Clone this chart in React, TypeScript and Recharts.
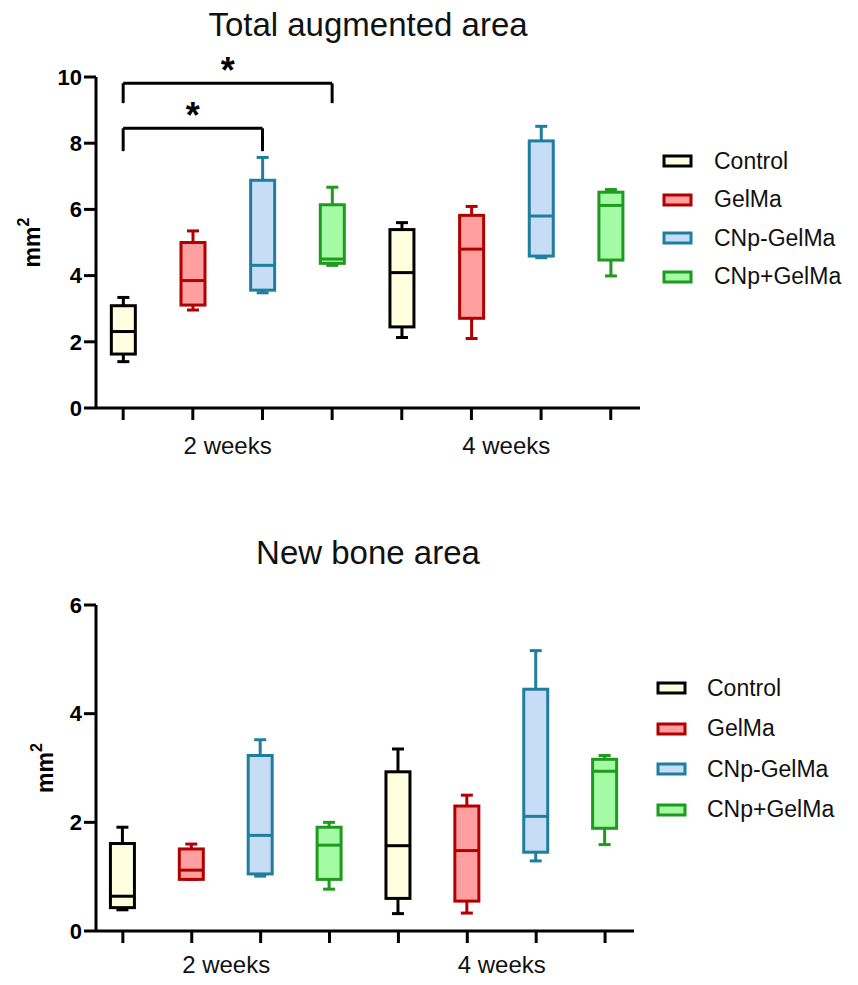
import React from "react";
import {
  Bar,
  ComposedChart,
  ReferenceDot,
  ReferenceLine,
  XAxis,
  YAxis,
} from "recharts";

const groups = ["Control", "GelMa", "CNp-GelMa", "CNp+GelMa"];
const timepoints = ["2 weeks", "4 weeks"];
const positions = [1, 2, 3, 4, 5, 6, 7, 8];
const timepointCenters = [2.5, 6.5];

// Total augmented area, boxes in order: 2 weeks (4 groups), 4 weeks (4 groups)
const totalMin = [1.4, 2.96, 3.48, 4.31, 2.13, 2.1, 4.54, 3.99];
const totalQ1 = [1.63, 3.11, 3.56, 4.37, 2.45, 2.71, 4.59, 4.47];
const totalMedian = [2.31, 3.85, 4.31, 4.5, 4.09, 4.8, 5.8, 6.12];
const totalQ3 = [3.09, 5.0, 6.88, 6.14, 5.39, 5.82, 8.07, 6.52];
const totalMax = [3.34, 5.35, 7.57, 6.67, 5.6, 6.09, 8.51, 6.6];
const totalTicks = [0, 2, 4, 6, 8, 10];

// New bone area
const boneMin = [0.39, 0.95, 1.01, 0.77, 0.32, 0.33, 1.29, 1.59];
const boneQ1 = [0.43, 0.95, 1.05, 0.95, 0.6, 0.55, 1.45, 1.89];
const boneMedian = [0.64, 1.12, 1.76, 1.58, 1.57, 1.48, 2.11, 2.94];
const boneQ3 = [1.61, 1.51, 3.23, 1.91, 2.93, 2.3, 4.45, 3.16];
const boneMax = [1.91, 1.6, 3.52, 2.0, 3.35, 2.5, 5.16, 3.23];
const boneTicks = [0, 2, 4, 6];

// significance brackets on the top chart: from/to box positions, bar level, leg end
const brackets = [
  { from: 1, to: 3, top: 8.45, leg: 7.76, mark: "*" },
  { from: 1, to: 4, top: 9.81, leg: 9.21, mark: "*" },
];

const strokes = ["#000000", "#b00000", "#1f7e9e", "#1e9a1e"];
const fills = ["#ffffe0", "#ff9f9f", "#c6ddf5", "#a3fca3"];

const FONT = '"Liberation Sans", Arial, sans-serif';
const X_DOMAIN: [number, number] = [0.61, 8.42];

function buildRows(
  min: number[],
  q1: number[],
  median: number[],
  q3: number[],
  max: number[]
) {
  return positions.map((pos, i) => ({
    pos,
    group: i % groups.length,
    range: [min[i], max[i]],
    min: min[i],
    q1: q1[i],
    median: median[i],
    q3: q3[i],
    max: max[i],
  }));
}

const totalRows = buildRows(totalMin, totalQ1, totalMedian, totalQ3, totalMax);
const boneRows = buildRows(boneMin, boneQ1, boneMedian, boneQ3, boneMax);

function BoxShape(props: any) {
  const { x, y, width, height, payload } = props;
  if (!payload) return null;
  const top = Math.min(y, y + height);
  const h = Math.abs(height);
  const { min, q1, median, q3, max, group } = payload;
  const px = (v: number) => top + ((max - v) / (max - min)) * h;
  const cx = x + width / 2;
  const cap = width / 2;
  const stroke = strokes[group];
  return (
    <g>
      <line x1={cx} x2={cx} y1={px(max)} y2={px(q3)} stroke={stroke} strokeWidth={3} />
      <line x1={cx} x2={cx} y1={px(q1)} y2={px(min)} stroke={stroke} strokeWidth={3} />
      <line x1={cx - cap / 2} x2={cx + cap / 2} y1={px(max)} y2={px(max)} stroke={stroke} strokeWidth={3} />
      <line x1={cx - cap / 2} x2={cx + cap / 2} y1={px(min)} y2={px(min)} stroke={stroke} strokeWidth={3} />
      <rect
        x={x}
        y={px(q3)}
        width={width}
        height={px(q1) - px(q3)}
        fill={fills[group]}
        stroke={stroke}
        strokeWidth={3}
      />
      <line x1={x} x2={x + width} y1={px(median)} y2={px(median)} stroke={stroke} strokeWidth={3} />
    </g>
  );
}

function YLabel(props: any) {
  const { viewBox, baseX } = props;
  const cx = baseX;
  const cy = viewBox.y + viewBox.height / 2;
  return (
    <text
      x={cx}
      y={cy}
      transform={`rotate(-90, ${cx}, ${cy})`}
      textAnchor="middle"
      fontFamily={FONT}
      fontWeight="bold"
      fontSize={23}
      fill="#000"
    >
      mm
      <tspan dy={-11} fontSize={16}>
        2
      </tspan>
    </text>
  );
}

function BoxChart({
  rows,
  yMax,
  yTicks,
  width,
  height,
  margin,
  labelX,
  groupMargin,
  showBrackets,
}: {
  rows: any[];
  yMax: number;
  yTicks: number[];
  width: number;
  height: number;
  margin: any;
  labelX: number;
  groupMargin: number;
  showBrackets?: boolean;
}) {
  return (
    <ComposedChart width={width} height={height} data={rows} margin={margin}>
      <XAxis
        dataKey="pos"
        type="number"
        domain={X_DOMAIN}
        ticks={positions}
        interval={0}
        allowDataOverflow
        tickFormatter={() => ""}
        tickSize={12}
        height={14}
        axisLine={{ stroke: "#000", strokeWidth: 3 }}
        tickLine={{ stroke: "#000", strokeWidth: 3 }}
      />
      <XAxis
        xAxisId="grp"
        dataKey="pos"
        type="number"
        domain={X_DOMAIN}
        ticks={timepointCenters}
        interval={0}
        allowDataOverflow
        axisLine={false}
        tickLine={false}
        tickSize={0}
        tickMargin={groupMargin}
        height={40}
        tickFormatter={(v: number) => timepoints[timepointCenters.indexOf(v)] ?? ""}
        tick={{ fill: "#111", fontSize: 24, fontFamily: FONT }}
      />
      <YAxis
        type="number"
        domain={[0, yMax]}
        ticks={yTicks}
        interval={0}
        width={96}
        tickSize={12}
        tickMargin={2}
        axisLine={{ stroke: "#000", strokeWidth: 3 }}
        tickLine={{ stroke: "#000", strokeWidth: 3 }}
        tick={{ fill: "#000", fontSize: 22, fontWeight: "bold", fontFamily: FONT }}
        label={<YLabel baseX={labelX} />}
      />
      <Bar dataKey="range" barSize={24} shape={<BoxShape />} isAnimationActive={false} />
      {showBrackets &&
        brackets.map((b, i) => (
          <React.Fragment key={i}>
            <ReferenceLine
              segment={[
                { x: b.from, y: b.leg },
                { x: b.from, y: b.top },
              ]}
              stroke="#000"
              strokeWidth={3}
            />
            <ReferenceLine
              segment={[
                { x: b.from, y: b.top },
                { x: b.to, y: b.top },
              ]}
              stroke="#000"
              strokeWidth={3}
            />
            <ReferenceLine
              segment={[
                { x: b.to, y: b.top },
                { x: b.to, y: b.leg },
              ]}
              stroke="#000"
              strokeWidth={3}
            />
            <ReferenceDot
              x={(b.from + b.to) / 2}
              y={b.top}
              r={0}
              fill="none"
              stroke="none"
              label={{
                value: b.mark,
                position: "top",
                offset: 0,
                fontSize: 36,
                fontWeight: "bold",
                fill: "#000",
                fontFamily: FONT,
              }}
            />
          </React.Fragment>
        ))}
    </ComposedChart>
  );
}

function Legend({ left, top, gap, textLeft }: { left: number; top: number; gap: number; textLeft: number }) {
  return (
    <>
      {groups.map((g, i) => (
        <div
          key={g}
          style={{
            position: "absolute",
            left,
            top: top + i * gap - 14,
            height: 28,
            display: "flex",
            alignItems: "center",
            fontFamily: FONT,
            fontSize: 23,
            color: "#111",
            whiteSpace: "nowrap",
          }}
        >
          <svg width={32} height={14} style={{ marginRight: textLeft - left - 32 }}>
            <rect x={2} y={2} width={27} height={10} fill={fills[i]} stroke={strokes[i]} strokeWidth={3} />
          </svg>
          {g}
        </div>
      ))}
    </>
  );
}

function Title({ text, baseline, center }: { text: string; baseline: number; center: number }) {
  return (
    <div
      style={{
        position: "absolute",
        left: center - 250,
        width: 500,
        top: baseline - 28,
        textAlign: "center",
        fontFamily: FONT,
        fontSize: 33,
        lineHeight: "33px",
        color: "#111",
      }}
    >
      {text}
    </div>
  );
}

export default function App() {
  return (
    <div
      style={{
        position: "absolute",
        left: 0,
        top: 0,
        width: 858,
        height: 985,
        background: "#fff",
        overflow: "hidden",
      }}
    >
      <Title text="Total augmented area" baseline={36} center={368} />
      <div style={{ position: "absolute", left: 0, top: 0 }}>
        <BoxChart
          rows={totalRows}
          yMax={10}
          yTicks={totalTicks}
          width={858}
          height={462}
          margin={{ top: 77, right: 218, bottom: 0, left: 0 }}
          labelX={40}
          groupMargin={15}
          showBrackets
        />
      </div>
      <Legend left={662} top={161} gap={38.5} textLeft={714} />

      <Title text="New bone area" baseline={564} center={368} />
      <div style={{ position: "absolute", left: 0, top: 480 }}>
        <BoxChart
          rows={boneRows}
          yMax={6}
          yTicks={boneTicks}
          width={858}
          height={505}
          margin={{ top: 125, right: 224, bottom: 0, left: 0 }}
          labelX={53}
          groupMargin={11}
        />
      </div>
      <Legend left={656} top={688} gap={40.5} textLeft={707} />
    </div>
  );
}
